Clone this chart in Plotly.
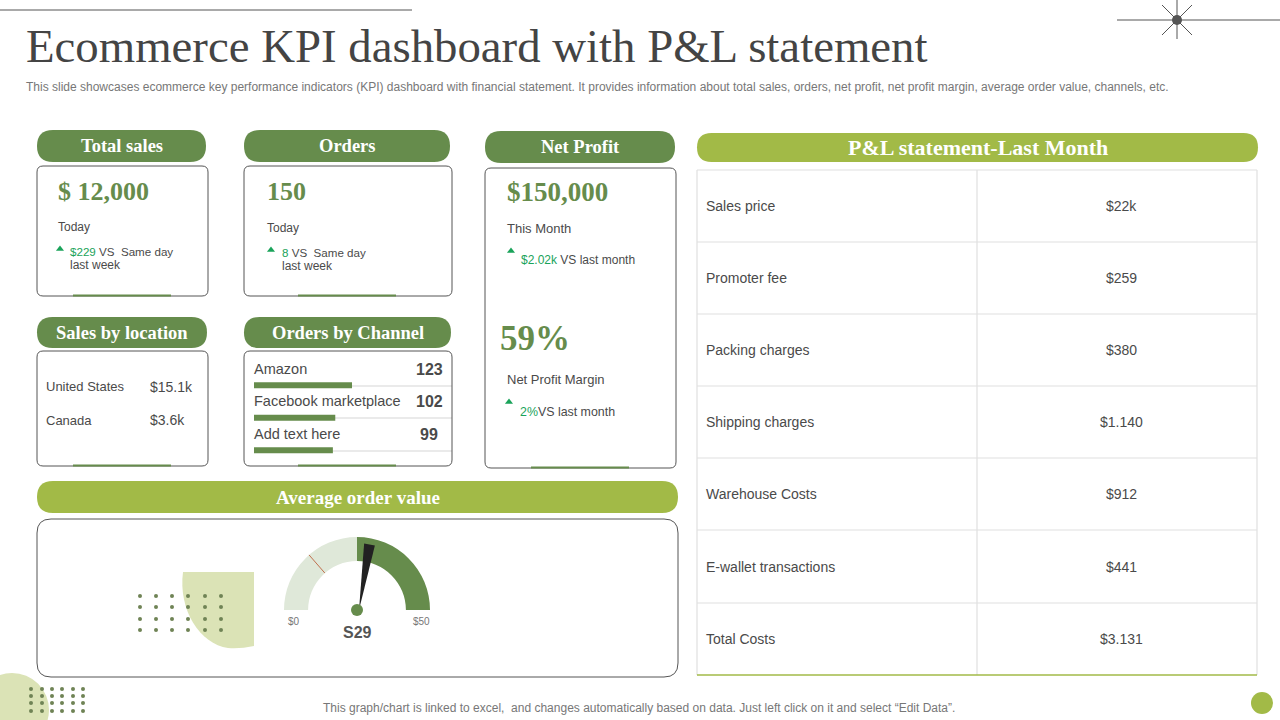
# Ecommerce KPI dashboard slide rebuilt in plotly
import numpy as np
import plotly.graph_objects as go

# data
channel_names = ['Amazon', 'Facebook marketplace', 'Add text here']
channel_orders = [123, 102, 99]
table_labels = ['Sales price', 'Promoter fee', 'Packing charges', 'Shipping charges',
                'Warehouse Costs', 'E-wallet transactions', 'Total Costs']
table_values = ['$22k', '$259', '$380', '$1.140', '$912', '$441', '$3.131']
location_names = ['United States', 'Canada']
location_sales = ['$15.1k', '$3.6k']
gauge_bands = [25, 25]
gauge_max = 50
gauge_needle = 28
gauge_marker = 13.6

# colours and fonts
DARK = '#668c4c'
LIME = '#a2ba47'
PALE = '#dbe3b6'
SERIF = 'Liberation Serif'
SANS = 'Liberation Sans'
UP = '#1aa35a'
TEXT = '#4a4a4a'

W, H = 1280, 720
shapes = []
notes = []


def rounded(x0, y0, x1, y1, r):
    return (f'M{x0+r},{y0} L{x1-r},{y0} Q{x1},{y0} {x1},{y0+r} L{x1},{y1-r} Q{x1},{y1} {x1-r},{y1} '
            f'L{x0+r},{y1} Q{x0},{y1} {x0},{y1-r} L{x0},{y0+r} Q{x0},{y0} {x0+r},{y0} Z')


def label(x, y, text, size=12, color=TEXT, font=SANS, anchor='left'):
    notes.append(dict(x=x, y=y, text=text, showarrow=False, xanchor=anchor, yanchor='middle',
                      xref='x', yref='y', borderpad=0, borderwidth=0,
                      font=dict(family=font, size=size, color=color)))


def line(x0, y0, x1, y1, color, width=1, layer='above'):
    shapes.append(dict(type='line', x0=x0, y0=y0, x1=x1, y1=y1, xref='x', yref='y', layer=layer,
                       line=dict(color=color, width=width)))


def pill(x0, y0, x1, y1, text, color=DARK, size=18.5):
    shapes.append(dict(type='path', path=rounded(x0, y0, x1, y1, (y1 - y0) / 2), xref='x', yref='y',
                       fillcolor=color, line=dict(width=0), layer='below'))
    label((x0 + x1) / 2, (y0 + y1) / 2, f'<b>{text}</b>', size, 'white', SERIF, 'center')


def box(x0, y0, x1, y1, tab=None, r=6):
    shapes.append(dict(type='path', path=rounded(x0, y0, x1, y1, r), xref='x', yref='y',
                       line=dict(color='#555555', width=1)))
    if tab:
        line(tab[0], y1 - 0.5, tab[1], y1 - 0.5, DARK, 2)


def green(text):
    return f'<span style="color:{UP}">{text}</span>'


# header
line(0, 10, 412, 10, '#555555', 1)
line(1117, 20, 1280, 20, '#555555', 1)
line(1177, 0, 1177, 39, '#555555', 1)
line(1162, 5, 1192, 35, '#555555', 1)
line(1162, 35, 1192, 5, '#555555', 1)
shapes.append(dict(type='circle', x0=1172, y0=15, x1=1182, y1=25, xref='x', yref='y',
                   fillcolor='#555555', line=dict(width=0)))
label(26, 46, 'Ecommerce KPI dashboard with P&L statement', 46.8, '#444444', SERIF)
label(26, 87, 'This slide showcases ecommerce key performance indicators (KPI) dashboard with financial '
              'statement. It provides information about total sales, orders, net profit, net profit margin, '
              'average order value, channels, etc.', 12, '#777777')

# top cards
pill(37, 130, 206, 162, 'Total sales')
box(37, 166, 208, 296, (73, 171))
label(58, 191, '<b>$ 12,000</b>', 26, DARK, SERIF)
label(58, 227, 'Today')
label(70, 251, green('$229') + ' VS  Same day', 11.6)
label(70, 265, 'last week')

pill(244, 130, 450, 162, 'Orders')
box(244, 166, 452, 296, (298, 396))
label(267, 191, '<b>150</b>', 26, DARK, SERIF)
label(267, 228, 'Today')
label(282, 252, green('8') + ' VS  Same day', 11.6)
label(282, 266, 'last week')

pill(485, 131, 675, 163, 'Net Profit')
box(485, 168, 676, 468, (531, 629))
label(507, 192, '<b>$150,000</b>', 27, DARK, SERIF)
label(507, 228, 'This Month', 13)
label(521, 260, green('$2.02k') + ' VS last month')
label(500, 338, '<b>59%</b>', 35, DARK, SERIF)
label(507, 379, 'Net Profit Margin', 13)
label(520, 412, green('2%') + 'VS last month', 12.4)

# sales by location
pill(37, 317, 207, 348, 'Sales by location')
box(37, 351, 208, 466, (73, 171))
for i, (name, sales) in enumerate(zip(location_names, location_sales)):
    label(46, 386 + 34 * i, name, 13)
    label(150, 387 + 33 * i, sales, 14)

# orders by channel
pill(244, 317, 451, 348, 'Orders by Channel')
box(244, 351, 452, 466, (298, 396))
for i, (name, orders) in enumerate(zip(channel_names, channel_orders)):
    y = [369, 401, 434][i]
    label(254, y, name, 14.5)
    label(429, y, f'<b>{orders}</b>', 16, TEXT, SANS, 'center')
    line(254, y + 17, 452, y + 17, '#d5d5d5', 1, 'below')

# average order value
pill(37, 481, 678, 513, 'Average order value', LIME, 19)
box(37, 519, 678, 677, r=14)
shapes.append(dict(type='path', path='M183,572 L254,572 L254,646 Q240,649 228,648 C200,644 178,610 183,572 Z',
                   xref='x', yref='y', fillcolor=PALE, line=dict(width=0), layer='below'))

# gauge overlay, positions worked out from the gauge scale
CX, CY = 357, 610


def gauge_point(value, r):
    a = np.pi * (1 - value / gauge_max)
    return CX + r * np.cos(a), CY - r * np.sin(a)


mx0, my0 = gauge_point(gauge_marker, 49)
mx1, my1 = gauge_point(gauge_marker, 73)
line(mx0, my0, mx1, my1, '#c0704f', 1)
nx0, ny0 = gauge_point(gauge_needle - 1.3, 67)
nx1, ny1 = gauge_point(gauge_needle + 1.3, 67)
shapes.append(dict(type='path', path=f'M{CX+2},{CY} L{nx0},{ny0} L{nx1},{ny1} Z', xref='x', yref='y',
                   fillcolor='#222222', line=dict(width=0)))
shapes.append(dict(type='circle', x0=CX - 6, y0=CY - 6, x1=CX + 6, y1=CY + 6, xref='x', yref='y',
                   fillcolor=DARK, line=dict(width=0)))
label(294, 621, '$0', 10, '#777777', SANS, 'center')
label(421, 621, '$50', 10, '#777777', SANS, 'center')
label(357, 632, '<b>S29</b>', 16, '#555555', SANS, 'center')

# P&L table
pill(697, 133, 1258, 162, 'P&L statement-Last Month', LIME, 22)
row_tops = [170, 242, 314, 386, 458, 530, 603, 675]
for y in row_tops[:-1]:
    line(697, y, 1257, y, '#e0e0e0', 1.2)
for x in [697, 977, 1257]:
    line(x, 170, x, 675, '#e0e0e0', 1.2)
line(697, 675, 1257, 675, LIME, 1.5)
for i, (name, val) in enumerate(zip(table_labels, table_values)):
    mid = (row_tops[i] + row_tops[i + 1]) / 2
    label(706, mid, name, 14)
    label(1121, mid, val, 14, TEXT, SANS, 'center')

# corner decoration and footer
shapes.append(dict(type='circle', x0=-25, y0=673, x1=49, y1=747, xref='x', yref='y',
                   fillcolor=PALE, line=dict(width=0), layer='below'))
shapes.append(dict(type='circle', x0=1251, y0=692, x1=1273, y1=714, xref='x', yref='y',
                   fillcolor=LIME, line=dict(width=0)))
label(639, 708, 'This graph/chart is linked to excel,  and changes automatically based on data. '
                'Just left click on it and select “Edit Data”.', 12, '#777777', SANS, 'center')

dot_x1, dot_y1 = np.meshgrid([140, 156, 172, 188, 205, 221], [596, 607, 619, 630])
dot_x2, dot_y2 = np.meshgrid([31, 42, 52, 62, 73, 83], [689, 696, 703, 711])

fig = go.Figure()
fig.add_trace(go.Scatter(x=np.r_[dot_x1.ravel(), dot_x2.ravel()], y=np.r_[dot_y1.ravel(), dot_y2.ravel()],
                         mode='markers', marker=dict(color='#6f8355', size=4), hoverinfo='skip'))
fig.add_trace(go.Scatter(x=[60, 271, 511, 509], y=[249, 250, 251, 402], mode='markers',
                         marker=dict(symbol='triangle-up', color=UP, size=7), hoverinfo='skip'))
# channel bars
fig.add_trace(go.Bar(x=channel_orders, y=channel_names, orientation='h', xaxis='x2', yaxis='y2',
                     marker=dict(color=DARK, line=dict(width=0)), width=0.18, hoverinfo='skip'))
# gauge arc, last slice hides the lower half
fig.add_trace(go.Pie(values=gauge_bands + [gauge_max], sort=False, direction='clockwise', rotation=-90,
                     hole=0.67, marker=dict(colors=['#dfe8d9', DARK, 'rgba(0,0,0,0)'], line=dict(width=0)),
                     textinfo='none', hoverinfo='skip',
                     domain=dict(x=[284 / W, 430 / W], y=[1 - 683 / H, 1 - 537 / H])))

fig.update_layout(
    width=W, height=H, margin=dict(l=0, r=0, t=0, b=0), showlegend=False,
    paper_bgcolor='white', plot_bgcolor='rgba(0,0,0,0)',
    xaxis=dict(range=[0, W], visible=False, fixedrange=True),
    yaxis=dict(range=[H, 0], visible=False, fixedrange=True),
    xaxis2=dict(domain=[254 / W, 354 / W], range=[0, 125.5], visible=False, anchor='y2'),
    yaxis2=dict(domain=[1 - 466.5 / H, 1 - 369 / H], range=[2.5, -0.5], type='category',
                categoryorder='array', categoryarray=channel_names, visible=False, anchor='x2'),
    shapes=shapes, annotations=notes,
)

# the browser's default body margin would push the figure 8px off
fig.write_html("out.html", config={'displayModeBar': False}, post_script="document.body.style.margin='0';")
